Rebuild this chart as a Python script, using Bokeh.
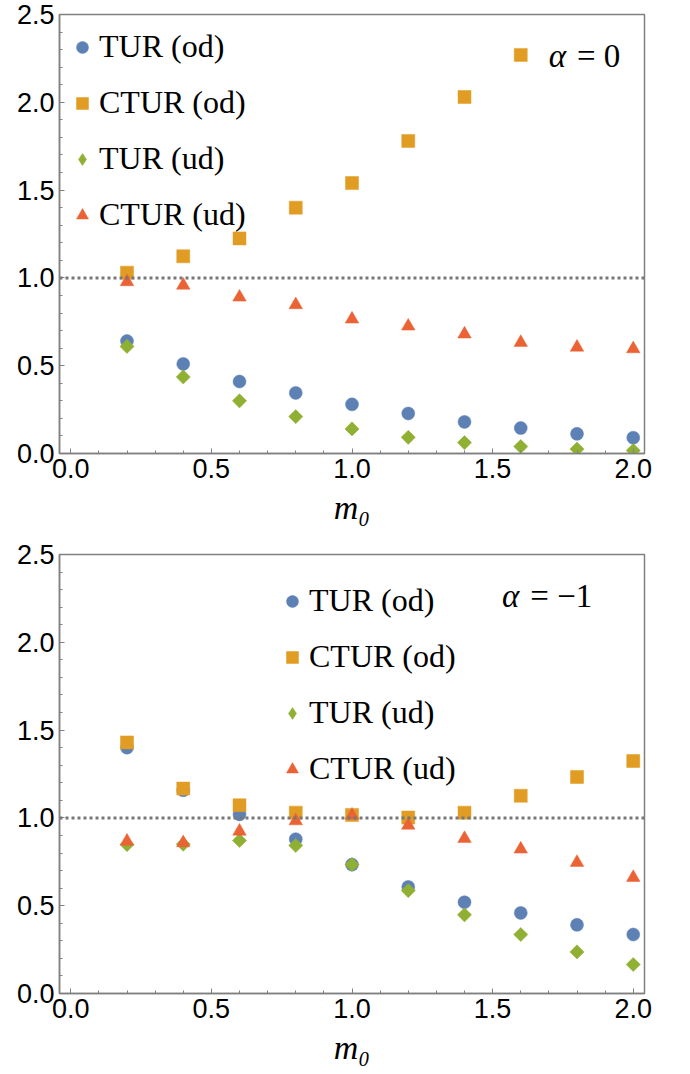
import math
from bokeh.plotting import figure
from bokeh.models import (ColumnDataSource, Span, Legend, LegendItem, Label,
                          FixedTicker, PrintfTickFormatter, Range1d)
from bokeh.layouts import column
from bokeh.embed import file_html
from bokeh.resources import INLINE

NAN = float("nan")

# ---- data -------------------------------------------------------------
m0 = [0.2, 0.4, 0.6, 0.8, 1.0, 1.2, 1.4, 1.6, 1.8, 2.0]

# alpha = 0
tur_od_a0 = [0.64, 0.51, 0.41, 0.345, 0.28, 0.228, 0.18, 0.145, 0.112, 0.09]
ctur_od_a0 = [1.03, 1.123, 1.225, 1.40, 1.54, 1.78, 2.03, 2.27, NAN, NAN]
tur_ud_a0 = [0.61, 0.436, 0.30, 0.21, 0.14, 0.092, 0.062, 0.04, 0.025, 0.017]
ctur_ud_a0 = [0.978, 0.958, 0.89, 0.847, 0.765, 0.725, 0.68, 0.632, 0.605, 0.596]

# alpha = -1
tur_od_am1 = [1.40, 1.157, 1.02, 0.879, 0.734, 0.607, 0.52, 0.459, 0.391, 0.336]
ctur_od_am1 = [1.43, 1.167, 1.072, 1.03, 1.017, 1.002, 1.03, 1.126, 1.233, 1.324]
tur_ud_am1 = [0.848, 0.85, 0.871, 0.843, 0.734, 0.586, 0.448, 0.336, 0.237, 0.165]
ctur_ud_am1 = [0.867, 0.858, 0.924, 0.983, 1.015, 0.958, 0.882, 0.822, 0.746, 0.66]

series_labels = ["TUR (od)", "CTUR (od)", "TUR (ud)", "CTUR (ud)"]
colors = ["#5E81B5", "#E19C24", "#8FB032", "#EB6235"]
x_major = [0.0, 0.5, 1.0, 1.5, 2.0]
y_major = [0.0, 0.5, 1.0, 1.5, 2.0, 2.5]
x_minor = [i / 10 for i in range(0, 21)]
y_minor = [i / 10 for i in range(0, 26)]
alpha_values = ["0", "\u22121"]
x_label = "m\u2080"

GRAY = "#808080"
SERIF = "Liberation Serif"
SANS = "Liberation Sans"


def make_panel(series, alpha_val, legend_xy, alpha_xy, border_top, border_bottom):
    p = figure(width=690, height=537, output_backend="svg", toolbar_location=None,
               title=None, x_range=Range1d(-0.04, 2.04), y_range=Range1d(0, 2.5),
               min_border_left=59, min_border_right=46,
               min_border_top=border_top, min_border_bottom=border_bottom)
    p.grid.visible = False
    p.background_fill_color = "white"
    p.border_fill_color = "white"
    p.outline_line_color = GRAY
    p.outline_line_width = 1.5

    for ax, maj, mnr in ((p.xaxis[0], x_major, x_minor), (p.yaxis[0], y_major, y_minor)):
        ax.ticker = FixedTicker(ticks=maj, minor_ticks=mnr)
        ax.formatter = PrintfTickFormatter(format="%.1f")
        ax.axis_line_color = GRAY
        ax.axis_line_width = 1.5
        ax.major_tick_line_color = GRAY
        ax.minor_tick_line_color = GRAY
        ax.major_tick_in = 5
        ax.major_tick_out = 0
        ax.minor_tick_in = 3
        ax.minor_tick_out = 0
        ax.major_label_text_font = SANS
        ax.major_label_text_font_size = "27px"
        ax.major_label_text_color = "black"
        ax.major_label_standoff = 5

    xa = p.xaxis[0]
    xa.axis_label = x_label
    xa.axis_label_text_font = SERIF
    xa.axis_label_text_font_style = "italic"
    xa.axis_label_text_font_size = "34px"
    xa.axis_label_text_color = "black"
    xa.axis_label_standoff = 8

    p.add_layout(Span(location=1.0, dimension="width", line_color="#777777",
                      line_width=3, line_dash="3 3"))

    src = ColumnDataSource(dict(x=m0, a=series[0], b=series[1], c=series[2], d=series[3]))
    r_a = p.scatter("x", "a", source=src, marker="circle", size=13,
                    fill_color=colors[0], line_color=colors[0], line_width=0.5)
    r_b = p.scatter("x", "b", source=src, marker="square", size=13,
                    fill_color=colors[1], line_color=colors[1], line_width=0.5)
    r_c = p.scatter("x", "c", source=src, marker="square", size=10, angle=math.pi / 4,
                    fill_color=colors[2], line_color=colors[2], line_width=0.5)
    r_c_leg = p.scatter("x", "c", source=src, marker="diamond", size=13,
                        fill_color=colors[2], line_color=colors[2], line_width=0.5,
                        visible=False)
    r_d = p.scatter("x", "d", source=src, marker="triangle", size=13.5,
                    fill_color=colors[3], line_color=colors[3], line_width=0.5)

    items = [LegendItem(label=series_labels[0], renderers=[r_a]),
             LegendItem(label=series_labels[1], renderers=[r_b]),
             LegendItem(label=series_labels[2], renderers=[r_c_leg]),
             LegendItem(label=series_labels[3], renderers=[r_d])]
    leg = Legend(items=items, location=legend_xy, padding=0, margin=0,
                 glyph_width=30, glyph_height=30, label_height=30, spacing=19,
                 label_standoff=2, label_text_font=SERIF, label_text_font_size="32px",
                 label_text_color="black", border_line_color=None,
                 background_fill_alpha=0, inactive_fill_alpha=0)
    p.add_layout(leg, "center")

    ax_, ay_ = alpha_xy
    p.add_layout(Label(x=ax_, y=ay_, text="\u03b1", text_align="right", x_offset=-11,
                       text_baseline="alphabetic", text_font=SERIF,
                       text_font_style="italic", text_font_size="33px", text_color="black"))
    p.add_layout(Label(x=ax_, y=ay_, text="= " + alpha_val, text_align="left",
                       text_baseline="alphabetic", text_font=SERIF,
                       text_font_size="33px", text_color="black"))
    return p


p1 = make_panel([tur_od_a0, ctur_od_a0, tur_ud_a0, ctur_ud_a0], alpha_values[0],
                (8, 220), (1.80, 2.265), 14, 84)
p2 = make_panel([tur_od_am1, ctur_od_am1, tur_ud_am1, ctur_ud_am1], alpha_values[1],
                (218, 206), (1.634, 2.265), 17, 81)

layout = column(p1, p2, spacing=0)
open("out.html", "w").write(file_html(layout, INLINE))
